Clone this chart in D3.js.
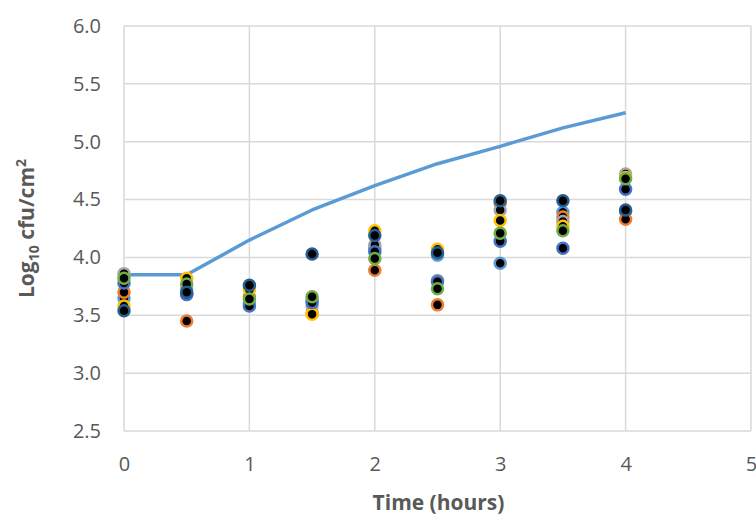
<!DOCTYPE html>
<html>
<head>
<meta charset="utf-8">
<script src="https://cdn.jsdelivr.net/npm/d3@7"></script>
<style>
  html, body { margin: 0; padding: 0; background: #fff; }
  svg { display: block; font-family: 'Open Sans', sans-serif; }
</style>
</head>
<body>
<div id="chart"></div>
<script>
'use strict';

// time points (hours)
const times = [0, 0.5, 1, 1.5, 2, 2.5, 3, 3.5, 4];

// model curve
const model = [3.85, 3.85, 4.15, 4.41, 4.62, 4.81, 4.96, 5.12, 5.25];

// replicate observations, one array per series
const repLightBlue = [3.65, 3.68, 3.60, 3.63, 4.08, 4.02, 3.95, 4.39, 4.40];
const repOrange = [3.70, 3.45, 3.66, 3.52, 3.89, 3.59, 4.47, 4.35, 4.33];
const repGray = [3.86, 3.73, 3.74, 3.58, 4.11, 3.80, 4.41, 4.31, 4.72];
const repYellow = [3.58, 3.82, 3.72, 3.51, 4.23, 4.07, 4.32, 4.27, 4.69];
const repBlue = [3.78, 3.68, 3.58, 3.61, 4.05, 3.79, 4.14, 4.08, 4.59];
const repGreen = [3.82, 3.77, 3.64, 3.66, 3.99, 3.73, 4.21, 4.23, 4.68];
const repDarkBlue = [3.54, 3.70, 3.76, 4.03, 4.19, 4.04, 4.49, 4.49, 4.41];

const xTicks = [0, 1, 2, 3, 4, 5];
const yTicks = [2.5, 3.0, 3.5, 4.0, 4.5, 5.0, 5.5, 6.0];

const series = [
  { values: repLightBlue, colour: '#5B9BD5' },
  { values: repOrange, colour: '#ED7D31' },
  { values: repGray, colour: '#A5A5A5' },
  { values: repYellow, colour: '#FFC000' },
  { values: repBlue, colour: '#4472C4' },
  { values: repGreen, colour: '#70AD47' },
  { values: repDarkBlue, colour: '#255E91' }
];

const width = 756;
const height = 516;
const margin = { top: 26, right: 5, bottom: 85, left: 124 };

const svg = d3.select('#chart').append('svg')
  .attr('width', width)
  .attr('height', height);

const x = d3.scaleLinear().domain([0, 5]).range([margin.left, width - margin.right]);
const y = d3.scaleLinear().domain([2.5, 6]).range([height - margin.bottom, margin.top]);

// gridlines
svg.append('g')
  .selectAll('line')
  .data(yTicks)
  .join('line')
  .attr('x1', x(0))
  .attr('x2', x(5))
  .attr('y1', d => y(d))
  .attr('y2', d => y(d))
  .attr('stroke', '#D9D9D9')
  .attr('stroke-width', 1.5);

svg.append('g')
  .selectAll('line')
  .data(xTicks)
  .join('line')
  .attr('x1', d => x(d))
  .attr('x2', d => x(d))
  .attr('y1', y(2.5))
  .attr('y2', y(6))
  .attr('stroke', '#D9D9D9')
  .attr('stroke-width', 1.5);

// axes (labels only)
const yAxis = svg.append('g')
  .attr('transform', `translate(${margin.left},0)`)
  .call(d3.axisLeft(y).tickValues(yTicks).tickFormat(d3.format('.1f')).tickSize(0).tickPadding(23));
const xAxis = svg.append('g')
  .attr('transform', `translate(0,${y(2.5)})`)
  .call(d3.axisBottom(x).tickValues(xTicks).tickFormat(d3.format('d')).tickSize(0).tickPadding(26));

[yAxis, xAxis].forEach(a => {
  a.select('.domain').remove();
  a.selectAll('text')
    .attr('fill', '#595959')
    .style('font-size', '20px')
    .style('font-family', "'Open Sans', sans-serif");
});

// model line
const line = d3.line()
  .x((d, i) => x(times[i]))
  .y(d => y(d));

svg.append('path')
  .datum(model)
  .attr('d', line)
  .attr('fill', 'none')
  .attr('stroke', '#5B9BD5')
  .attr('stroke-width', 3.5)
  .attr('stroke-linejoin', 'round');

// observation markers
series.forEach(s => {
  svg.append('g')
    .selectAll('circle')
    .data(s.values.map((v, i) => ({ t: times[i], v })).filter(d => d.v != null))
    .join('circle')
    .attr('cx', d => x(d.t))
    .attr('cy', d => y(d.v))
    .attr('r', 5.5)
    .attr('fill', '#000')
    .attr('stroke', s.colour)
    .attr('stroke-width', 2.5);
});

// axis titles
svg.append('text')
  .attr('x', (x(0) + x(5)) / 2 + 1)
  .attr('y', 510)
  .attr('text-anchor', 'middle')
  .attr('fill', '#595959')
  .style('font-size', '21px')
  .style('font-weight', 'bold')
  .text('Time (hours)');

const yTitle = svg.append('text')
  .attr('transform', `translate(34,${(y(2.5) + y(6)) / 2}) rotate(-90)`)
  .attr('text-anchor', 'middle')
  .attr('fill', '#595959')
  .style('font-size', '21px')
  .style('font-weight', 'bold');
yTitle.append('tspan').text('Log');
yTitle.append('tspan').attr('dy', 5).style('font-size', '14px').text('10');
yTitle.append('tspan').attr('dy', -5).text(' cfu/cm');
yTitle.append('tspan').attr('dy', -8).style('font-size', '14px').text('2');
</script>
</body>
</html>
